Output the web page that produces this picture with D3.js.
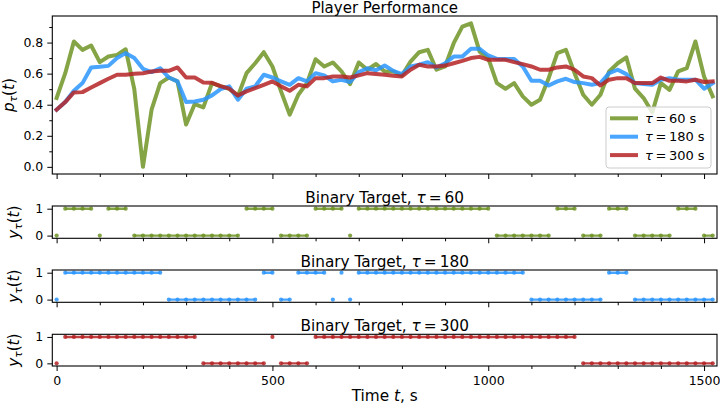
<!DOCTYPE html>
<html><head><meta charset="utf-8">
<script src="https://cdn.jsdelivr.net/npm/d3@7"></script>
<style>
body{margin:0;background:#fff;}
svg{display:block;font-family:"DejaVu Sans",sans-serif;}
</style>
</head><body>
<svg id="c" width="720" height="405"></svg>
<script>
// ---------------- data ----------------
const times = [0,20,40,60,80,100,120,140,160,180,200,220,240,260,280,300,320,340,360,380,
  400,420,440,460,480,500,520,540,560,580,600,620,640,660,680,700,720,740,760,780,
  800,820,840,860,880,900,920,940,960,980,1000,1020,1040,1060,1080,1100,1120,1140,1160,1180,
  1200,1220,1240,1260,1280,1300,1320,1340,1360,1380,1400,1420,1440,1460,1480,1500,1520];

const p60 = [0.443,0.603,0.807,0.753,0.781,0.674,0.710,0.721,0.757,0.50,
  0.0,0.368,0.539,0.575,0.55,0.272,0.404,0.383,0.539,0.518,
  0.503,0.454,0.603,0.667,0.738,0.646,0.486,0.336,0.464,0.539,
  0.693,0.646,0.672,0.614,0.533,0.672,0.625,0.662,0.614,0.614,
  0.588,0.678,0.738,0.753,0.625,0.646,0.796,0.903,0.924,0.742,
  0.70,0.539,0.503,0.539,0.454,0.40,0.432,0.571,0.732,0.753,
  0.603,0.464,0.40,0.464,0.614,0.667,0.704,0.503,0.443,0.35,
  0.539,0.496,0.614,0.635,0.807,0.582,0.454];

const p180 = [0.368,0.417,0.49,0.539,0.64,0.644,0.65,0.70,0.732,0.70,
  0.631,0.61,0.635,0.575,0.55,0.417,0.421,0.432,0.46,0.50,
  0.518,0.432,0.503,0.518,0.593,0.575,0.55,0.528,0.571,0.55,
  0.603,0.589,0.55,0.561,0.546,0.61,0.635,0.622,0.652,0.618,
  0.597,0.646,0.657,0.674,0.64,0.667,0.71,0.71,0.76,0.76,
  0.717,0.695,0.695,0.695,0.646,0.554,0.554,0.524,0.55,0.567,
  0.546,0.539,0.528,0.539,0.603,0.625,0.597,0.539,0.533,0.528,
  0.561,0.571,0.561,0.561,0.561,0.503,0.539];

const p300 = [0.368,0.417,0.479,0.481,0.511,0.539,0.567,0.593,0.593,0.599,
  0.603,0.614,0.618,0.618,0.64,0.575,0.575,0.543,0.541,0.52,
  0.503,0.46,0.486,0.507,0.528,0.55,0.518,0.49,0.528,0.518,
  0.571,0.571,0.582,0.582,0.575,0.589,0.603,0.598,0.593,0.586,
  0.582,0.625,0.657,0.646,0.646,0.652,0.667,0.682,0.70,0.708,
  0.689,0.689,0.689,0.674,0.661,0.646,0.625,0.625,0.64,0.646,
  0.625,0.582,0.571,0.524,0.561,0.571,0.571,0.539,0.539,0.539,
  0.575,0.554,0.554,0.55,0.561,0.546,0.55];

const y60 = [0,1,1,1,1,0,1,1,1,0, 0,0,0,0,0,0,0,0,0,0,
  0,0,1,1,1,1,0,0,0,0, 1,1,1,1,0,1,1,1,1,1,
  1,1,1,1,1,1,1,1,1,1, 1,0,0,0,0,0,0,0,1,1,
  1,0,0,0,1,1,1,0,0,0, 0,0,1,1,1,0,0];

const y180 = [0,1,1,1,1,1,1,1,1,1, 1,1,1,0,0,0,0,0,0,0,
  0,0,0,0,1,1,0,0,1,1, 1,1,0,1,0,1,1,1,1,1,
  1,1,1,1,1,1,1,1,1,1, 1,1,1,1,1,0,0,0,0,0,
  0,0,0,0,1,1,1,0,0,0, 0,0,0,0,0,0,0];

const y300 = [0,1,1,1,1,1,1,1,1,1, 1,1,1,1,1,1,1,0,0,0,
  0,0,0,0,0,1,0,0,0,0, 1,1,1,1,1,1,1,1,1,1,
  1,1,1,1,1,1,1,1,1,1, 1,1,1,1,1,1,1,1,1,1,
  1,0,0,0,0,0,0,0,0,0, 0,0,0,0,0,0,0];

const tauLabels = ["60", "180", "300"];
const xMajorTicks = [0, 500, 1000, 1500];
const xMinorTicks = [100,200,300,400,600,700,800,900,1100,1200,1300,1400];
const yTopTicks = [0.0, 0.2, 0.4, 0.6, 0.8];
const yTopMinor = [0.1, 0.3, 0.5, 0.7, 0.9];
const yBinTicks = [0, 1];
const colors = ["#6f9426", "#2a95ff", "#b52326"];

// ---------------- layout ----------------
const svg = d3.select("#c");
const FONT = "DejaVu Sans";
const xL = 52.3, xR = 717;
const x = d3.scaleLinear().domain([-10, 1530]).range([xL, xR]);
const topP = {y0: 16, y1: 174};
const bins = [{y0: 206, y1: 238.3}, {y0: 270, y1: 302.3}, {y0: 334.3, y1: 366}];
const yTop = d3.scaleLinear().domain([-0.046, 0.971]).range([topP.y1, topP.y0]);

function axes(g, y, y1, yTicks, yMinor, yFmt, xLabels) {
  const xa = g.append("g").attr("transform", `translate(0,${y1})`)
    .call(d3.axisBottom(x).tickValues(xMajorTicks).tickSize(5).tickPadding(5)
      .tickFormat(xLabels ? d3.format("d") : () => ""));
  const xm = g.append("g").attr("transform", `translate(0,${y1})`)
    .call(d3.axisBottom(x).tickValues(xMinorTicks).tickSize(3).tickFormat(() => ""));
  const ya = g.append("g").attr("transform", `translate(${xL},0)`)
    .call(d3.axisLeft(y).tickValues(yTicks).tickSize(5).tickPadding(4).tickFormat(yFmt));
  const ym = g.append("g").attr("transform", `translate(${xL},0)`)
    .call(d3.axisLeft(y).tickValues(yMinor).tickSize(3).tickFormat(() => ""));
  [xa, xm, ya, ym].forEach(a => {
    a.select(".domain").remove();
    a.attr("font-size", 12.5).attr("font-family", FONT);
    a.selectAll("text").attr("fill", "#000");
    a.selectAll("line").attr("stroke", "#000").attr("stroke-width", 1);
  });
}

function frame(g, p) {
  g.append("rect").attr("x", xL).attr("y", p.y0).attr("width", xR - xL).attr("height", p.y1 - p.y0)
    .attr("fill", "none").attr("stroke", "#000").attr("stroke-width", 1.1);
}

function titleTau(g, y, pre, tau, post) {
  const t = g.append("text").attr("x", (xL + xR) / 2).attr("y", y).attr("text-anchor", "middle")
    .attr("font-size", 15.3).attr("font-family", FONT).attr("fill", "#000");
  t.append("tspan").text(pre);
  t.append("tspan").attr("font-style", "italic").text("τ");
  t.append("tspan").text("\u2009=\u2009" + tau + post);
  return t;
}

function yLabel(g, xPos, yc, letter) {
  const t = g.append("text").attr("transform", `translate(${xPos},${yc}) rotate(-90)`)
    .attr("text-anchor", "middle").attr("font-size", 15.3).attr("font-family", FONT).attr("fill", "#000");
  t.append("tspan").attr("font-style", "italic").text(letter);
  t.append("tspan").attr("font-style", "italic").attr("font-size", 10.7).attr("dy", 3).text("τ");
  t.append("tspan").attr("dy", -3).text("(");
  t.append("tspan").attr("font-style", "italic").text("t");
  t.append("tspan").text(")");
}

// ---------------- top panel ----------------
const gTop = svg.append("g");
axes(gTop, yTop, topP.y1, yTopTicks, yTopMinor, d3.format(".1f"), false);
const series = [p60, p180, p300];
const line = d3.line().x((d, i) => x(times[i])).y(d => yTop(d));
series.forEach((s, i) => {
  gTop.append("path").attr("d", line(s)).attr("fill", "none")
    .attr("stroke", colors[i]).attr("stroke-opacity", 0.85)
    .attr("stroke-width", 4).attr("stroke-linejoin", "round").attr("stroke-linecap", "square");
});
frame(gTop, topP);
gTop.append("text").attr("x", (xL + xR) / 2).attr("y", 13).attr("text-anchor", "middle")
  .attr("font-size", 15).attr("font-family", FONT).attr("fill", "#000").text("Player Performance");
yLabel(gTop, 13.8, (topP.y0 + topP.y1) / 2, "p");

// legend
const lg = gTop.append("g");
lg.append("rect").attr("x", 606).attr("y", 107).attr("width", 105).attr("height", 61).attr("rx", 3)
  .attr("fill", "#fff").attr("fill-opacity", 0.8).attr("stroke", "#cccccc").attr("stroke-width", 1);
tauLabels.forEach((tl, i) => {
  const yy = 118.3 + i * 18.4;
  lg.append("line").attr("x1", 610).attr("x2", 638).attr("y1", yy).attr("y2", yy)
    .attr("stroke", colors[i]).attr("stroke-opacity", 0.85).attr("stroke-width", 4);
  const t = lg.append("text").attr("x", 645).attr("y", yy).attr("dy", "0.36em")
    .attr("font-size", 13).attr("font-family", FONT).attr("fill", "#000");
  t.append("tspan").attr("font-style", "italic").text("τ");
  t.append("tspan").text("\u2009=\u2009" + tl + " s");
});

// ---------------- binary panels ----------------
const bin = [y60, y180, y300];
bins.forEach((p, i) => {
  const g = svg.append("g");
  const yB = d3.scaleLinear().domain([-0.1, 1.1]).range([p.y1, p.y0]);
  axes(g, yB, p.y1, yBinTicks, [], d3.format("d"), i === 2);
  const vals = bin[i];
  [0, 1].forEach(level => {
    const ln = d3.line().defined(d => d === level).x((d, k) => x(times[k])).y(d => yB(d));
    g.append("path").attr("d", ln(vals)).attr("fill", "none").attr("stroke", colors[i])
      .attr("stroke-opacity", 0.85).attr("stroke-width", 2.4);
  });
  g.selectAll("circle.m").data(vals).join("circle")
    .attr("cx", (d, k) => x(times[k])).attr("cy", d => yB(d)).attr("r", 2.1)
    .attr("fill", colors[i]).attr("fill-opacity", 0.85);
  frame(g, p);
  titleTau(g, p.y0 - 3.3, "Binary Target, ", tauLabels[i], "");
  yLabel(g, 19.3, (p.y0 + p.y1) / 2, "y");
});

// x label
const xl = svg.append("text").attr("x", (xL + xR) / 2).attr("y", 401).attr("text-anchor", "middle")
  .attr("font-size", 15.3).attr("font-family", FONT).attr("fill", "#000");
xl.append("tspan").text("Time ");
xl.append("tspan").attr("font-style", "italic").text("t");
xl.append("tspan").text(", s");
</script>
</body></html>
